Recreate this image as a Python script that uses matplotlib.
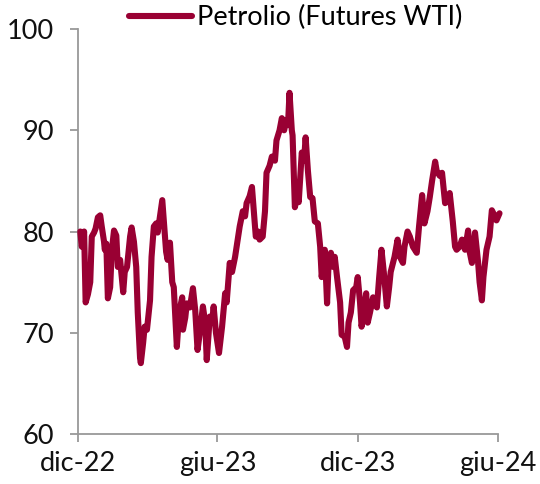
import matplotlib
matplotlib.use("Agg")
import matplotlib.pyplot as plt
import matplotlib.dates as mdates
import numpy as np
import pandas as pd

plt.rcParams['font.family'] = ['Lato', 'DejaVu Sans']

series_name = "Petrolio (Futures WTI)"
start_date = "2022-12-01"
day_offsets = [3, 5, 8, 10, 13, 16, 18, 21, 23, 26, 29, 31, 34, 35, 37, 39, 42, 44, 47, 50,
               52, 55, 59, 61, 64, 68, 70, 73, 76, 78, 81, 82, 85, 87, 90, 94, 96, 99, 102, 104,
               107, 110, 112, 115, 117, 120, 123, 125, 129, 132, 136, 137, 140, 142, 146, 150, 153, 156, 159, 163,
               166, 168, 172, 175, 177, 180, 184, 188, 192, 194, 198, 201, 205, 209, 211, 215, 218, 220, 224, 227,
               230, 232, 235, 237, 241, 244, 246, 250, 253, 257, 259, 263, 266, 269, 271, 274, 276, 279, 280, 283,
               286, 288, 292, 295, 297, 300, 303, 306, 309, 313, 316, 318, 321, 322, 325, 327, 330, 333, 335, 338,
               342, 344, 348, 351, 353, 356, 359, 363, 365, 368, 370, 373, 376, 378, 381, 385, 387, 390, 393, 396,
               399, 403, 406, 408, 411, 413, 417, 420, 424, 426, 430, 433, 437, 442, 445, 449, 452, 456, 459, 462,
               466, 468, 472, 475, 479, 482, 485, 489, 492, 494, 498, 501, 505, 509, 511, 514, 518, 522, 524, 527,
               529, 533, 537, 540, 544, 546, 550]
prices = [80.0, 78.5, 80.0, 73.0, 73.8, 75.0, 79.5, 79.9, 80.3, 81.4, 81.6, 80.5, 79.0, 78.2, 78.8, 73.4, 74.5, 78.0, 80.1, 79.6,
          76.5, 77.2, 74.0, 76.0, 76.5, 79.5, 80.4, 79.0, 76.5, 72.0, 67.5, 67.0, 69.0, 70.6, 70.3, 73.2, 77.5, 80.5, 80.8, 79.9,
          81.5, 83.1, 81.0, 78.0, 77.2, 78.9, 75.0, 74.5, 68.6, 72.0, 73.5, 70.3, 71.5, 72.9, 72.5, 74.4, 72.2, 68.3, 70.0, 72.6,
          71.0, 67.3, 71.6, 71.0, 72.6, 70.0, 68.0, 70.6, 73.9, 73.0, 76.9, 76.0, 77.5, 79.5, 80.5, 82.0, 81.5, 82.8, 83.5, 84.4,
          81.5, 79.5, 80.0, 79.2, 79.5, 82.0, 85.8, 86.5, 87.4, 87.0, 89.0, 90.0, 91.2, 90.0, 91.0, 90.5, 93.7, 90.0, 89.5, 82.4,
          83.5, 82.9, 87.8, 87.0, 89.3, 86.0, 83.4, 83.3, 81.0, 80.8, 78.5, 75.5, 77.5, 78.2, 72.9, 77.0, 77.9, 76.5, 77.5, 75.5,
          73.0, 69.8, 69.6, 68.6, 71.0, 72.0, 74.2, 74.5, 75.5, 73.0, 70.6, 72.0, 73.9, 71.0, 72.0, 73.5, 73.0, 72.5, 75.5, 78.2,
          76.0, 72.6, 74.5, 76.0, 76.9, 77.5, 79.2, 77.5, 76.9, 78.5, 80.0, 79.5, 78.5, 77.9, 80.5, 83.6, 80.8, 82.0, 83.4, 85.0,
          86.9, 86.0, 85.5, 85.8, 82.8, 83.0, 83.8, 81.0, 78.5, 78.2, 78.5, 79.2, 78.2, 80.1, 78.0, 76.9, 79.9, 77.0, 75.0, 73.2,
          75.5, 78.2, 79.5, 82.1, 81.5, 81.1, 81.8]
tick_dates = ["2022-12-01", "2023-06-01", "2023-12-01", "2024-06-01"]
tick_labels = ["dic-22", "giu-23", "dic-23", "giu-24"]
y_ticks = [60, 70, 80, 90, 100]

dates = pd.Timestamp(start_date) + pd.to_timedelta(day_offsets, unit="D")

fig = plt.figure(figsize=(5.4, 4.84), dpi=100)
ax = fig.add_axes([0.1444, 0.1033, 0.7778, 0.8367])
line_color = "#990033"
ax.plot(dates, prices, color=line_color, lw=4.4, solid_joinstyle="round",
        solid_capstyle="round", clip_on=False, label=series_name, zorder=3)

ax.set_ylim(60, 100)
ax.set_yticks(y_ticks)
ax.set_xlim(pd.Timestamp(tick_dates[0]), pd.Timestamp(tick_dates[-1]))
ax.set_xticks([pd.Timestamp(d) for d in tick_dates])
ax.set_xticklabels(tick_labels)

for s in ["top", "right"]:
    ax.spines[s].set_visible(False)
for s in ["left", "bottom"]:
    ax.spines[s].set_color("#999999")
    ax.spines[s].set_linewidth(1.3)
ax.tick_params(axis="both", colors="#999999", length=6, width=1.3, labelsize=19.5,
               labelcolor="#111111")
ax.tick_params(axis="x", pad=6)
ax.tick_params(axis="y", pad=11)

fig.legend(loc="center", bbox_to_anchor=(0.548, 0.963), frameon=False,
           fontsize=19.5, handlelength=2.3, handletextpad=0.2, borderaxespad=0)

fig.savefig("out.png", dpi=100)
